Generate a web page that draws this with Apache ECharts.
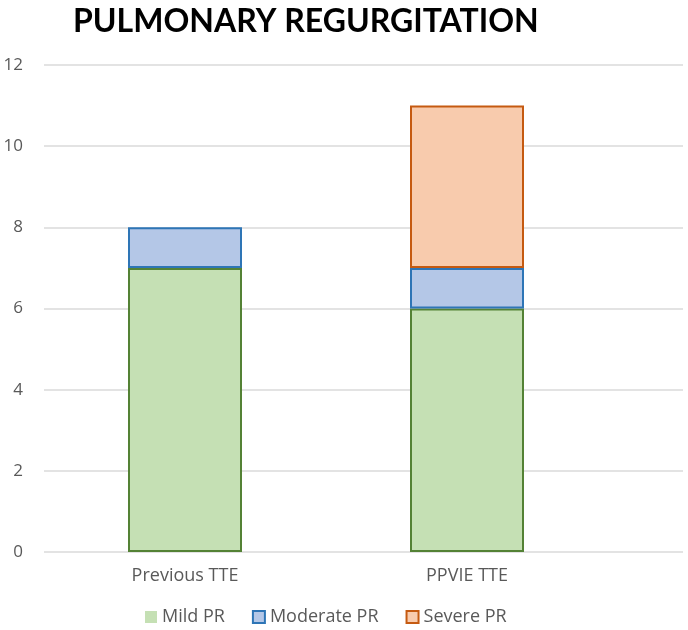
<!DOCTYPE html>
<html>
<head>
<meta charset="utf-8">
<script src="https://cdn.jsdelivr.net/npm/echarts@6/dist/echarts.min.js"></script>
<style>
  html, body { margin: 0; padding: 0; background: #fff; }
  #chart { width: 688px; height: 630px; }
</style>
</head>
<body>
<div id="chart"></div>
<script>
// data
var categories = ['Previous TTE', 'PPVIE TTE'];
var mildPR = [7, 6];
var moderatePR = [1, 1];
var severePR = [0, 4];
var yTicks = [0, 2, 4, 6, 8, 10, 12];

var labelColor = '#595959';
var gridColor = '#e3e3e3';
var font = 'Open Sans';

// empty segments are not drawn
function nonZero(arr) {
    return arr.map(function (v) { return v === 0 ? '-' : v; });
}

var chart = echarts.init(document.getElementById('chart'), null, { renderer: 'canvas' });

var option = {
    animation: false,
    backgroundColor: '#fff',
    title: {
        text: 'PULMONARY REGURGITATION',
        left: 68,
        top: 1,
        textStyle: { fontFamily: 'Lato', fontWeight: 'bold', fontSize: 32, color: '#000' }
    },
    legend: {
        left: 145,
        top: 608,
        padding: 0,
        icon: 'rect',
        itemWidth: 12,
        itemHeight: 12,
        itemGap: 27,
        textStyle: { fontFamily: font, fontSize: 18, color: labelColor },
        data: [
            { name: 'Mild PR', itemStyle: { borderWidth: 0 } },
            { name: 'Moderate PR' },
            { name: 'Severe PR' }
        ]
    },
    grid: [
        // bars
        { left: 44, right: 80, top: 65, bottom: 78 },
        // full-width background lines + y labels
        { left: 44, right: 5, top: 65, bottom: 78 }
    ],
    xAxis: [
        {
            type: 'category',
            gridIndex: 0,
            data: categories,
            axisLine: { show: false },
            axisTick: { show: false },
            axisLabel: { fontFamily: font, fontSize: 18, color: labelColor, margin: 15 }
        },
        { type: 'value', gridIndex: 1, min: 0, max: 1, show: false }
    ],
    yAxis: [
        { type: 'value', gridIndex: 0, min: 0, max: 12, interval: 2, show: false },
        {
            type: 'value',
            gridIndex: 1,
            min: yTicks[0],
            max: yTicks[yTicks.length - 1],
            interval: 2,
            axisLine: { show: false },
            axisTick: { show: false },
            axisLabel: { fontFamily: font, fontSize: 17, color: labelColor, margin: 21 },
            splitLine: { lineStyle: { color: gridColor, width: 2 } }
        }
    ],
    series: [
        {
            name: 'Mild PR',
            type: 'bar',
            stack: 'pr',
            barWidth: 114,
            data: mildPR,
            itemStyle: { color: '#c5e0b4', borderColor: '#548235', borderWidth: 2 }
        },
        {
            name: 'Moderate PR',
            type: 'bar',
            stack: 'pr',
            barWidth: 114,
            data: moderatePR,
            itemStyle: { color: '#b4c7e7', borderColor: '#2e75b6', borderWidth: 2 }
        },
        {
            name: 'Severe PR',
            type: 'bar',
            stack: 'pr',
            barWidth: 114,
            data: nonZero(severePR),
            itemStyle: { color: '#f8cbad', borderColor: '#c55a11', borderWidth: 2 }
        }
    ]
};

chart.setOption(option);
</script>
</body>
</html>
